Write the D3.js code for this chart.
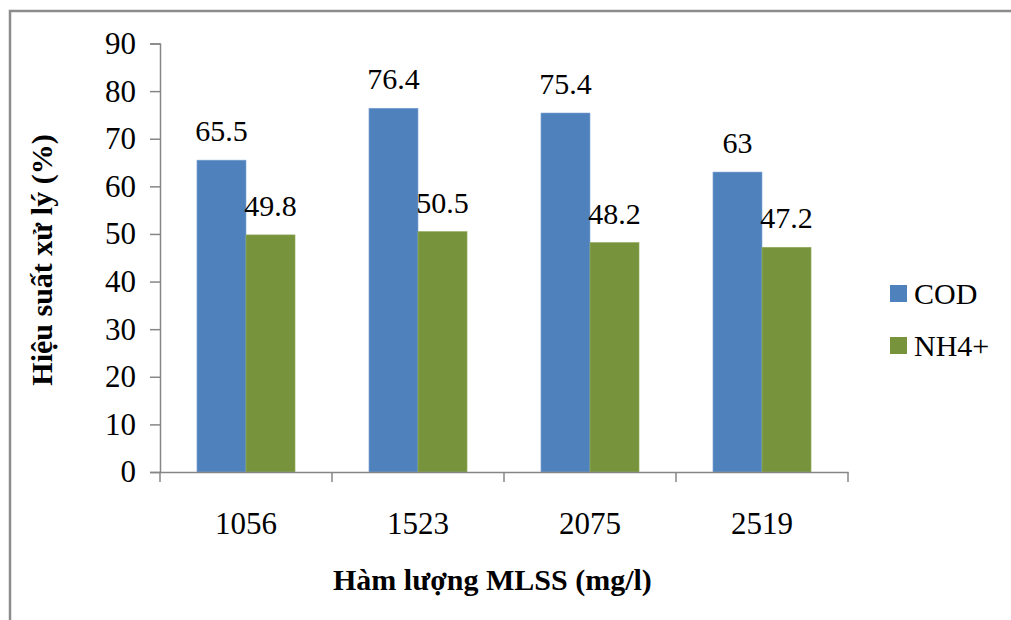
<!DOCTYPE html>
<html>
<head>
<meta charset="utf-8">
<script src="https://cdn.jsdelivr.net/npm/d3@7"></script>
<style>
    body { margin: 0; background: #fff; }
</style>
</head>
<body>
<svg id="chart" width="1011" height="620"></svg>
<script>
const categories = ["1056", "1523", "2075", "2519"];
const seriesNames = ["COD", "NH4+"];
const codValues = [65.5, 76.4, 75.4, 63];
const nh4Values = [49.8, 50.5, 48.2, 47.2];
const yTicks = [0, 10, 20, 30, 40, 50, 60, 70, 80, 90];
const colors = ["#4F81BD", "#77933C"];

const serif = "'Liberation Serif', 'Times New Roman', serif";

const svg = d3.select("#chart");

// outer frame (only left and top edges are visible in the picture)
svg.append("rect")
    .attr("x", 10)
    .attr("y", 11)
    .attr("width", 1100)
    .attr("height", 700)
    .attr("fill", "none")
    .attr("stroke", "#8c8c8c")
    .attr("stroke-width", 2.5);

const plot = { left: 160, right: 848, top: 43.5, bottom: 472 };

const x = d3.scaleBand()
    .domain(categories)
    .range([plot.left, plot.right]);

const inner = d3.scaleBand()
    .domain(seriesNames)
    .range([0, x.bandwidth() * 0.57])
    .paddingInner(0);

const y = d3.scaleLinear()
    .domain([0, 90])
    .range([plot.bottom, plot.top]);

const rows = categories.map((c, i) => ({
    cat: c,
    vals: [codValues[i], nh4Values[i]]
}));

const groups = svg.selectAll(".cat")
    .data(rows)
    .enter()
    .append("g")
    .attr("class", "cat")
    .attr("transform", (d) => `translate(${x(d.cat) + x.bandwidth() * 0.215},0)`);

groups.selectAll("rect")
    .data((d) => d.vals.map((v, j) => ({ v: v, s: seriesNames[j], j: j })))
    .enter()
    .append("rect")
    .attr("x", (d) => inner(d.s))
    .attr("width", inner.bandwidth())
    .attr("y", (d) => y(d.v))
    .attr("height", (d) => y(0) - y(d.v))
    .attr("fill", (d) => colors[d.j])
    .attr("stroke", (d) => d.j === 0 ? "#7fa3d3" : "#93ad5e")
    .attr("stroke-width", 0.6);

groups.selectAll(".val")
    .data((d) => d.vals.map((v, j) => ({ v: v, s: seriesNames[j] })))
    .enter()
    .append("text")
    .attr("class", "val")
    .attr("x", (d) => inner(d.s) + inner.bandwidth() / 2)
    .attr("y", (d) => y(d.v) - 19)
    .attr("text-anchor", "middle")
    .style("font-family", serif)
    .style("font-size", "30px")
    .text((d) => d.v);

// y axis
const yAxis = d3.axisLeft(y)
    .tickValues(yTicks)
    .tickSize(10)
    .tickPadding(14);

const gy = svg.append("g")
    .attr("transform", `translate(${plot.left},0)`)
    .call(yAxis);
gy.select(".domain").attr("stroke", "#868686").attr("stroke-width", 1.5);
gy.selectAll(".tick line").attr("stroke", "#868686").attr("stroke-width", 1.5);
gy.selectAll(".tick text")
    .style("font-size", "31px")
    .style("font-family", serif)
    .attr("fill", "#000");

// x axis with boundary ticks
const xAxis = d3.axisBottom(x).tickSize(0).tickPadding(40);
const gx = svg.append("g")
    .attr("transform", `translate(0,${plot.bottom})`)
    .call(xAxis);
gx.select(".domain").attr("stroke", "#868686").attr("stroke-width", 1.5);
gx.selectAll(".tick text")
    .style("font-size", "31px")
    .style("font-family", serif)
    .attr("fill", "#000");

const bounds = categories.map((c) => x(c)).concat([plot.right]);
gx.selectAll(".bound")
    .data(bounds)
    .enter()
    .append("line")
    .attr("class", "bound")
    .attr("x1", (d) => d)
    .attr("x2", (d) => d)
    .attr("y1", 0)
    .attr("y2", 10)
    .attr("stroke", "#868686")
    .attr("stroke-width", 1.5);

// axis titles
svg.append("text")
    .attr("transform", "translate(52,260) rotate(-90)")
    .attr("text-anchor", "middle")
    .style("font-family", serif)
    .style("font-size", "30px")
    .style("font-weight", "bold")
    .text("Hiệu suất xử lý (%)");

svg.append("text")
    .attr("x", 333)
    .attr("y", 590)
    .attr("text-anchor", "start")
    .style("font-family", serif)
    .style("font-size", "30px")
    .style("font-weight", "bold")
    .text("Hàm lượng MLSS (mg/l)");

// legend
const legend = svg.selectAll(".legend")
    .data(seriesNames)
    .enter()
    .append("g")
    .attr("class", "legend")
    .attr("transform", (d, i) => `translate(890,${285 + i * 52})`);

legend.append("rect")
    .attr("width", 17)
    .attr("height", 17)
    .attr("fill", (d, i) => colors[i]);

legend.append("text")
    .attr("x", 24)
    .attr("y", 19)
    .style("font-family", serif)
    .style("font-size", "30px")
    .text((d) => d);
</script>
</body>
</html>
